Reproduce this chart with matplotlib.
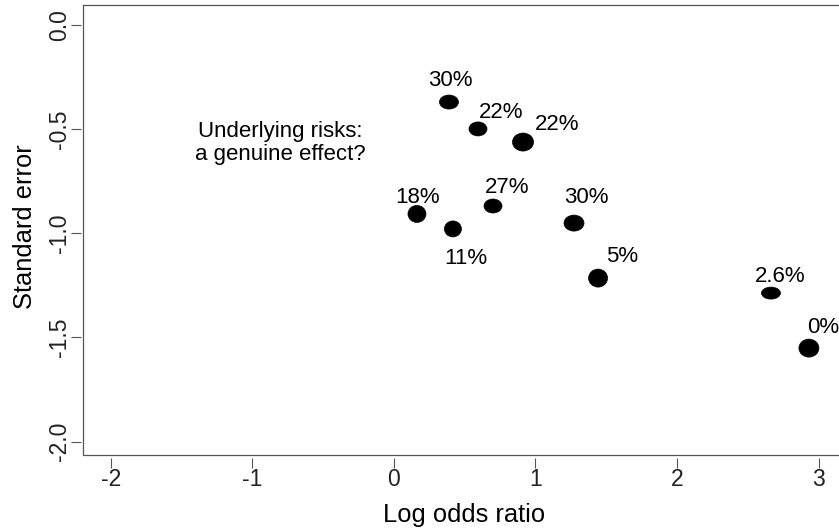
import matplotlib
matplotlib.use("Agg")
import matplotlib.pyplot as plt
from matplotlib.collections import EllipseCollection

# data
log_or = [0.389, 0.594, 0.912, 0.163, 0.417, 0.700, 1.272, 1.442, 2.663, 2.931]
std_err = [-0.370, -0.499, -0.562, -0.907, -0.979, -0.869, -0.951, -1.215, -1.287, -1.551]
risk_labels = ["30%", "22%", "22%", "18%", "11%", "27%", "30%", "5%", "2.6%", "0%"]
x_ticks = [-2, -1, 0, 1, 2, 3]
y_ticks = [0.0, -0.5, -1.0, -1.5, -2.0]
y_tick_labels = ["0.0", "-0.5", "-1.0", "-1.5", "-2.0"]

# marker sizes in pixels (width, height)
dot_w = [19, 18, 21, 18, 17, 18, 20, 19, 19, 20]
dot_h = [14, 14, 18, 17, 16, 14, 16, 18, 12, 18]
# label offsets in pixels (dx, dy to baseline, screen coords)
lab_dx = [1, 23, 34, 1, 13, 14, 12, 24, 9, 14]
lab_dy = [16, 11, 12, 11, -35, 13, 20, 16, 11, 15]

plt.rcParams['font.family'] = ['Liberation Sans', 'DejaVu Sans']
plt.rcParams['axes.unicode_minus'] = False
frame_col = '#555555'

fig = plt.figure(figsize=(8.39, 5.28), dpi=100)
ax = fig.add_axes([0.0995, 0.1383, 0.9249, 0.8523])
ax.set_xlim(-2.192, 3.288)
ax.set_ylim(-2.064, 0.096)

ec = EllipseCollection(dot_w, dot_h, [0] * len(dot_w), units='dots',
                       offsets=list(zip(log_or, std_err)),
                       offset_transform=ax.transData,
                       facecolors='black', edgecolors='black', linewidths=0.5)
ax.add_collection(ec)

for x, y, lab, dx, dy in zip(log_or, std_err, risk_labels, lab_dx, lab_dy):
    ax.annotate(lab, (x, y), xytext=(dx, dy), textcoords='offset pixels',
                ha='center', va='baseline', fontsize=16, color='black')

ax.text(-0.804, -0.566, "Underlying risks:\na genuine effect?", ha='center',
        va='center', fontsize=16, linespacing=1.15)

# R style frame: box drawn separately, axes offset a little
ax.spines['right'].set_visible(False)
ax.spines['top'].set_color(frame_col)
ax.spines['top'].set_linewidth(0.9)
for side in ['left', 'bottom']:
    ax.spines[side].set_position(('outward', 2))
    ax.spines[side].set_color('none')
ax.plot([1.2, 0, 0], [0, 0, 1], transform=ax.transAxes, color=frame_col,
        lw=0.9, clip_on=False, solid_capstyle='projecting')

ax.set_xticks(x_ticks)
ax.set_yticks(y_ticks)
ax.set_yticklabels(y_tick_labels)
ax.tick_params(direction='out', length=7.2, width=0.8, color=frame_col,
               labelsize=16.5, labelcolor='#222222', pad=0)
ax.tick_params(axis='y', labelrotation=90)
for lbl in ax.get_yticklabels():
    lbl.set_va('center')

ax.set_xlabel("Log odds ratio", fontsize=18.4, va='baseline')
ax.xaxis.set_label_coords((464.5 - 83.5) / 776, -67 / 450)
ax.set_ylabel("Standard error", fontsize=18.4, va='baseline', ha='center')
ax.yaxis.set_label_coords((32 - 83.5) / 776, (455 - 227) / 450)

fig.savefig("out.png", dpi=100)
